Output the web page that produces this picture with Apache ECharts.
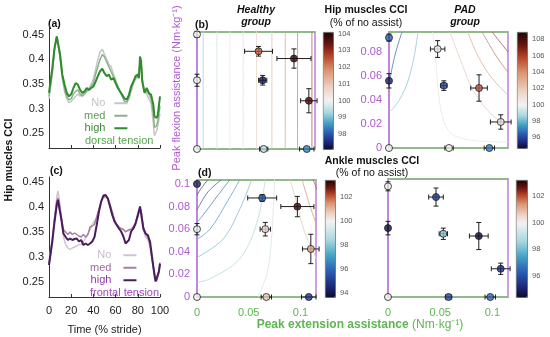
<!DOCTYPE html>
<html><head><meta charset="utf-8">
<script src="https://cdn.jsdelivr.net/npm/echarts@6/dist/echarts.min.js"></script>
<style>html,body{margin:0;padding:0;background:#fff}#c{width:550px;height:337px}</style>
</head><body><div id="c"></div>
<script>
// ---------------- DATA ----------------
const timeA = [0,3,5,7,8,10,12,14,16,18,20,22,24,26,28,30,32,34,36,38,40,42,44,46,48,50,52,54,56,58,60,62,64,66,68,70,72,74,76,78,80,81,82,83,84,86,88,90,91,92,94,95,97,98,100];
const dorsalNo = [0.32,0.37,0.42,0.445,0.44,0.40,0.36,0.335,0.32,0.312,0.315,0.32,0.325,0.33,0.325,0.33,0.332,0.338,0.342,0.35,0.36,0.38,0.40,0.415,0.421,0.41,0.40,0.39,0.385,0.37,0.36,0.345,0.335,0.325,0.315,0.312,0.32,0.335,0.35,0.36,0.365,0.37,0.39,0.385,0.36,0.335,0.33,0.32,0.318,0.31,0.27,0.245,0.255,0.265,0.29];
const dorsalMed = [0.325,0.375,0.42,0.445,0.442,0.405,0.365,0.34,0.325,0.318,0.32,0.33,0.335,0.338,0.33,0.325,0.33,0.335,0.34,0.345,0.352,0.37,0.385,0.40,0.41,0.405,0.395,0.385,0.375,0.365,0.355,0.345,0.335,0.325,0.315,0.312,0.322,0.34,0.355,0.362,0.368,0.375,0.395,0.39,0.36,0.335,0.335,0.33,0.328,0.32,0.29,0.262,0.265,0.275,0.305];
const dorsalHigh = [0.332,0.383,0.424,0.447,0.444,0.41,0.369,0.349,0.332,0.325,0.329,0.342,0.352,0.349,0.338,0.332,0.335,0.342,0.338,0.342,0.345,0.355,0.366,0.376,0.381,0.372,0.366,0.369,0.359,0.362,0.352,0.342,0.335,0.328,0.321,0.318,0.328,0.345,0.355,0.366,0.369,0.362,0.406,0.396,0.355,0.332,0.342,0.332,0.335,0.328,0.308,0.284,0.281,0.287,0.325];

const timeC = [0,3,5,7,8,9,11,13,15,17,19,21,23,25,27,29,31,33,35,37,39,41,43,45,47,49,51,53,55,57,59,61,63,65,67,69,70,72,74,76,78,80,82,83,85,87,89,91,93,95,96,97,99,100];
const frontalNo = [0.29,0.34,0.38,0.42,0.432,0.42,0.38,0.34,0.325,0.318,0.315,0.318,0.32,0.322,0.325,0.325,0.33,0.338,0.345,0.355,0.365,0.372,0.38,0.395,0.41,0.418,0.42,0.415,0.40,0.385,0.372,0.365,0.36,0.357,0.355,0.352,0.35,0.352,0.355,0.36,0.37,0.385,0.395,0.39,0.355,0.34,0.335,0.32,0.29,0.265,0.26,0.255,0.275,0.29];
const frontalMed = [0.285,0.335,0.375,0.41,0.418,0.413,0.38,0.355,0.35,0.345,0.35,0.345,0.348,0.345,0.342,0.34,0.345,0.34,0.345,0.36,0.362,0.365,0.38,0.395,0.41,0.42,0.422,0.418,0.405,0.39,0.375,0.365,0.36,0.357,0.355,0.35,0.352,0.355,0.355,0.36,0.368,0.38,0.398,0.393,0.36,0.345,0.34,0.325,0.295,0.268,0.258,0.252,0.268,0.285];
const frontalHigh = [0.284,0.331,0.371,0.404,0.414,0.41,0.377,0.347,0.34,0.334,0.337,0.334,0.336,0.337,0.331,0.334,0.324,0.327,0.324,0.327,0.331,0.34,0.364,0.391,0.411,0.423,0.424,0.417,0.401,0.384,0.371,0.364,0.357,0.351,0.341,0.327,0.324,0.334,0.351,0.357,0.367,0.384,0.401,0.397,0.357,0.347,0.344,0.331,0.297,0.264,0.251,0.247,0.271,0.287];

const lineTickLabels = [0.25,0.3,0.35,0.4,0.45];

// scatter points: [extension assist, flexion assist, xErr, yErr, CCI % of no assist]
const healthyHipPoints = [
  [0,0.095,0,0.0025,100.0],[0,0.057,0,0.005,100.1],[0,0,0,0,100],
  [0.060,0.081,0.0136,0.004,102.5],[0.0945,0.075,0.0166,0.008,104.0],
  [0.064,0.057,0.004,0.004,97.3],[0.109,0.040,0.008,0.010,103.7],
  [0.065,0,0.004,0,99.4],[0.107,0,0.007,0,98.4]];
const padHipPoints = [
  [0,0.092,0,0.003,96.5],[0,0.056,0,0.006,95.2],[0,0,0,0,100],
  [0.047,0.0825,0.007,0.007,100.3],[0.053,0.052,0.003,0.004,96.0],
  [0.087,0.050,0.008,0.011,105.5],[0.108,0.0217,0.010,0.006,101.0],
  [0.058,0,0.004,0,100.2],[0.097,0,0.005,0,97.0]];
const healthyAnklePoints = [
  [0,0.1,0,0,94.3],[0,0.060,0,0.005,99.6],[0,0,0,0,100],
  [0.063,0.0876,0.014,0.003,95.5],[0.097,0.080,0.016,0.009,103.2],
  [0.066,0.060,0.005,0.006,100.5],[0.110,0.0425,0.008,0.013,101.2],
  [0.067,0,0.005,0,100.8],[0.108,0,0.007,0,94.8]];
const padAnklePoints = [
  [0,0.098,0,0.004,100],[0,0.061,0,0.006,94.6],[0,0,0,0,100],
  [0.046,0.0885,0.007,0.008,95.6],[0.053,0.056,0.004,0.005,98.2],
  [0.087,0.054,0.009,0.012,94.5],[0.108,0.025,0.009,0.005,95.2],
  [0.058,0,0.003,0,95.8],[0.098,0,0.005,0,96.5]];

// contour lines (fitted surface iso-lines)
const healthyHipContourX = [0.006,0.0195,0.032,0.045,0.058,0.073,0.086,0.098,0.112];
const healthyHipContourLevels = [99.2,99.6,99.9,100.3,100.7,101.2,101.7,102.2,102.8];
const padHipContourLevels = [96.2,98.2,100.4,102,103.5,105,106.5];
const padHipContourLines = [
  [[0.0125,0.0967],[0.0058,0.0775],[0.001,0.058]],
  [[0.028,0.0967],[0.024,0.075],[0.018,0.055],[0.01,0.04],[0.002,0.031]],
  [[0.042,0.0967],[0.045,0.075],[0.048,0.045],[0.052,0.025],[0.06,0.012],[0.078,0.0067],[0.115,0.005]],
  [[0.059,0.0967],[0.071,0.069],[0.082,0.047],[0.0997,0.0275],[0.115,0.019]],
  [[0.076,0.0967],[0.087,0.075],[0.0997,0.058],[0.115,0.044]],
  [[0.090,0.0967],[0.103,0.0775],[0.115,0.063]],
  [[0.0997,0.0967],[0.115,0.080]]];
const healthyAnkleContourLevels = [94.3,95.2,96.0,96.8,97.6,98.6,99.5,100.8,101.6,102.4];
const healthyAnkleContourLines = [
  [[0.0106,0.104],[0.003,0.0947],[0,0.090]],
  [[0.024,0.104],[0.0106,0.093],[0,0.077]],
  [[0.032,0.104],[0.019,0.0885],[0.006,0.0726],[0,0.066]],
  [[0.0415,0.104],[0.029,0.084],[0.0126,0.060],[0,0.051]],
  [[0.053,0.104],[0.0415,0.078],[0.025,0.051],[0,0.035]],
  [[0.066,0.104],[0.058,0.066],[0.0415,0.034],[0.0126,0.016],[0,0.013]],
  [[0.075,0.104],[0.072,0.051],[0.068,0.022],[0.059,0]],
  [[0.090,0.104],[0.097,0.081],[0.104,0.0575],[0.117,0.031]],
  [[0.1015,0.104],[0.109,0.081],[0.117,0.060]],
  [[0.112,0.104],[0.117,0.093]]];

// ---------------- STYLE ----------------
const FONT = '"Liberation Sans", Arial, Helvetica, sans-serif';
const GREEN_LINE = '#7dc46e', GREEN_TEXT = '#5fb552', PURPLE_LINE = '#bd7fdc', PURPLE_TEXT = '#b058d2';
const LOW = [[0,'#f3f3f3'],[0.25,'#a6d7df'],[0.45,'#44a3c4'],[0.65,'#2b5fb5'],[0.85,'#1c2a7c'],[1,'#0b0b2e']];
const HIGH = [[0,'#f3f3f3'],[0.2,'#eed0c2'],[0.45,'#d99470'],[0.65,'#b9462a'],[0.82,'#6a1610'],[1,'#220505']];
function hex2rgb(h){return [parseInt(h.slice(1,3),16),parseInt(h.slice(3,5),16),parseInt(h.slice(5,7),16)];}
function rampRgb(stops,s){s=Math.max(0,Math.min(1,s));for(let i=1;i<stops.length;i++){if(s<=stops[i][0]){const a=stops[i-1],b=stops[i];const t=(s-a[0])/(b[0]-a[0]);const ca=hex2rgb(a[1]),cb=hex2rgb(b[1]);return ca.map((c,k)=>c+(cb[k]-c)*t);}}return hex2rgb(stops[stops.length-1][1]);}
function cciRgb(v,lo,hi){return v<100?rampRgb(LOW,(100-v)/(100-lo)):rampRgb(HIGH,(v-100)/(hi-100));}
function toCss(c){return 'rgb('+c.map(x=>Math.round(x)).join(',')+')';}
function cciColor(v,lo,hi){return toCss(cciRgb(v,lo,hi));}
function contourColor(v,lo,hi){return toCss(cciRgb(v,lo,hi).map(c=>c+(225-c)*0.3));}
function isMult(v,step){const q=v/step;return Math.abs(q-Math.round(q))<1e-6;}
function fmt(v){return String(parseFloat(v.toFixed(4)));}

const chart = echarts.init(document.getElementById('c'), null, {renderer:'canvas', width:550, height:337});

const grids = [
  {left:49, top:25, width:111, height:123},
  {left:49, top:177, width:111, height:120},
  {left:197, top:32, width:118, height:117},
  {left:389, top:32, width:119, height:116},
  {left:197, top:180, width:119, height:117},
  {left:388, top:179, width:120, height:118},
  {left:323, top:32, width:10, height:117},
  {left:517, top:32, width:10, height:116},
  {left:325, top:180, width:10, height:117},
  {left:516, top:180, width:11, height:117}
];

const panels = [
  {grid:2, ymax:0.097, pts:healthyHipPoints, lo:97.1, hi:104.1, step:1, showX:false, showY:false},
  {grid:3, ymax:0.0967, pts:padHipPoints, lo:94.7, hi:108.9, step:2, showX:false, showY:true},
  {grid:4, ymax:0.1035, pts:healthyAnklePoints, lo:93.7, hi:103.4, step:2, showX:true, showY:true},
  {grid:5, ymax:0.1045, pts:padAnklePoints, lo:94.4, hi:103.2, step:2, showX:true, showY:false}
];
grids.forEach((g,i)=>{ if(i>=2 && i<=5){ g.show=true; g.borderColor=PURPLE_LINE; g.borderWidth=1.5; } });

const lineY = (min,max,showLabel)=>({
  type:'value', min:min, max:max, interval:0.01,
  axisLine:{show:true, lineStyle:{color:'#333', width:1}},
  axisTick:{show:false}, splitLine:{show:false},
  axisLabel:{show:showLabel, fontFamily:FONT, fontSize:11, color:'#222', margin:5,
    formatter:v=>{ const hit=lineTickLabels.find(t=>Math.abs(t-v)<1e-6); return hit!==undefined?fmt(hit):''; }}
});
const xAxes = [
  {gridIndex:0, type:'value', min:0, max:100, interval:20, axisLine:{lineStyle:{color:'#333'}}, axisTick:{inside:true, length:3}, axisLabel:{show:false}, splitLine:{show:false}},
  {gridIndex:1, type:'value', min:0, max:100, interval:20, axisLine:{lineStyle:{color:'#333'}}, axisTick:{inside:true, length:3},
    axisLabel:{fontFamily:FONT, fontSize:11, color:'#222', margin:8}, splitLine:{show:false},
    name:'Time (% stride)', nameLocation:'middle', nameGap:27, nameTextStyle:{fontFamily:FONT, fontSize:11, color:'#222'}}
];
const yAxes = [ Object.assign({gridIndex:0}, lineY(0.22,0.47,true)), Object.assign({gridIndex:1}, lineY(0.22,0.46,true)) ];

panels.forEach((p,k)=>{
  p.xBottom = xAxes.length;
  xAxes.push({gridIndex:p.grid, type:'value', min:0, max:0.115, interval:0.05,
    axisLine:{lineStyle:{color:GREEN_LINE, width:1.6}}, axisTick:{show:false}, splitLine:{show:false},
    axisLabel:{show:p.showX, fontFamily:FONT, fontSize:11, color:GREEN_TEXT, margin:10,
      formatter:v=>isMult(v,0.05)?fmt(v):''}});
  xAxes.push({gridIndex:p.grid, type:'value', position:'top', min:0, max:0.115, interval:0.05,
    axisLine:{lineStyle:{color:GREEN_LINE, width:1.6}}, axisTick:{show:false}, splitLine:{show:false}, axisLabel:{show:false}});
  p.yIdx = yAxes.length;
  yAxes.push({gridIndex:p.grid, type:'value', min:0, max:p.ymax, interval:0.02,
    axisLine:{lineStyle:{color:PURPLE_LINE, width:1.6}}, axisTick:{show:false}, splitLine:{show:false},
    axisLabel:{show:p.showY, fontFamily:FONT, fontSize:11, color:PURPLE_TEXT, margin:7,
      formatter:v=>isMult(v,0.02)?fmt(v):''}});
});
panels.forEach((p,k)=>{
  xAxes.push({gridIndex:6+k, type:'value', show:false, min:0, max:1});
  yAxes.push({gridIndex:6+k, type:'value', position:'right', min:p.lo, max:p.hi, interval:0.1,
    axisLine:{show:false}, axisTick:{show:false}, splitLine:{show:false},
    axisLabel:{fontFamily:FONT, fontSize:7.5, color:'#555', margin:5,
      formatter:v=>{const r=Math.round(v); return (Math.abs(v-r)<1e-6 && r%p.step===0)?String(r):'';}}});
});

const series = [];
function addLine(name, xs, ys, xi, yi, color, w){
  series.push({type:'line', name:name, xAxisIndex:xi, yAxisIndex:yi, data:xs.map((x,i)=>[x,ys[i]]),
    showSymbol:false, color:color, lineStyle:{color:color, width:w}, z:3, silent:true});
}
addLine('No', timeA, dorsalNo, 0, 0, '#c6c6c6', 1.5);
addLine('med', timeA, dorsalMed, 0, 0, '#8fb08c', 1.5);
addLine('high', timeA, dorsalHigh, 0, 0, '#2f8c2c', 2);
addLine('No ', timeC, frontalNo, 1, 1, '#cfc5cf', 1.5);
addLine('med ', timeC, frontalMed, 1, 1, '#a97ea3', 1.5);
addLine('high ', timeC, frontalHigh, 1, 1, '#4a1c5c', 2);

function contour(p, pts, level){
  series.push({type:'line', xAxisIndex:p.xBottom, yAxisIndex:p.yIdx, data:pts, showSymbol:false, smooth:0.35,
    lineStyle:{color:contourColor(level,p.lo,p.hi), width:1, opacity:0.85}, silent:true, z:1, clip:true});
}
healthyHipContourX.forEach((x,i)=>contour(panels[0], [[x,0],[x,1]], healthyHipContourLevels[i]));
padHipContourLines.forEach((l,i)=>contour(panels[1], l, padHipContourLevels[i]));
healthyAnkleContourLines.forEach((l,i)=>contour(panels[2], l, healthyAnkleContourLevels[i]));

function errRender(params, api){
  const x=api.value(0), y=api.value(1), xe=api.value(2), ye=api.value(3);
  const ch=[]; const st={stroke:'#1e1e1e', lineWidth:1}; const cap=2.5;
  if(xe>0){const a=api.coord([x-xe,y]), b=api.coord([x+xe,y]);
    ch.push({type:'line',shape:{x1:a[0],y1:a[1],x2:b[0],y2:b[1]},style:st});
    [a,b].forEach(q=>ch.push({type:'line',shape:{x1:q[0],y1:q[1]-cap,x2:q[0],y2:q[1]+cap},style:st}));}
  if(ye>0){const a=api.coord([x,y-ye]), b=api.coord([x,y+ye]);
    ch.push({type:'line',shape:{x1:a[0],y1:a[1],x2:b[0],y2:b[1]},style:st});
    [a,b].forEach(q=>ch.push({type:'line',shape:{x1:q[0]-cap,y1:q[1],x2:q[0]+cap,y2:q[1]},style:st}));}
  return {type:'group', children:ch};
}
const visualMaps = [];
panels.forEach((p,k)=>{
  series.push({type:'custom', xAxisIndex:p.xBottom, yAxisIndex:p.yIdx, data:p.pts, renderItem:errRender,
    encode:{x:0,y:1}, z:4, silent:true});
  const si = series.length;
  series.push({type:'scatter', xAxisIndex:p.xBottom, yAxisIndex:p.yIdx, data:p.pts, encode:{x:0,y:1},
    symbolSize:7, itemStyle:{borderColor:'#1e1e1e', borderWidth:1}, z:5, clip:false, silent:true});
  const cols=[]; for(let i=0;i<=40;i++){const v=p.lo+(p.hi-p.lo)*i/40; cols.push(cciColor(v,p.lo,p.hi));}
  const g = grids[6+k];
  visualMaps.push({type:'continuous', seriesIndex:si, dimension:4, min:p.lo, max:p.hi, inRange:{color:cols},
    show:true, calculable:false, orient:'vertical', left:g.left, top:g.top, itemWidth:g.width, itemHeight:g.height,
    padding:0, text:null, borderColor:'#333', borderWidth:0.8, hoverLink:false});
});

const T = (text,x,y,opt)=>Object.assign({type:'text', x:x, y:y, silent:true,
  style:Object.assign({text:text, fontFamily:FONT, fontSize:10.5, fill:'#111', textAlign:'center', textVerticalAlign:'middle'}, (opt&&opt.style)||{})},
  opt&&opt.rotation!==undefined?{rotation:opt.rotation}:{});
const graphics = [
  T('(a)',48,24,{style:{fontWeight:'bold', textAlign:'left'}}),
  T('(c)',50,171,{style:{fontWeight:'bold', textAlign:'left'}}),
  T('(b)',195,25,{style:{fontWeight:'bold', textAlign:'left'}}),
  T('(d)',198,173,{style:{fontWeight:'bold', textAlign:'left'}}),
  T('Healthy',256,10,{style:{fontWeight:'bold', fontStyle:'italic'}}),
  T('group',256,22,{style:{fontWeight:'bold', fontStyle:'italic'}}),
  T('PAD',465,10,{style:{fontWeight:'bold', fontStyle:'italic'}}),
  T('group',465,22,{style:{fontWeight:'bold', fontStyle:'italic'}}),
  T('Hip muscles CCI',366,10,{style:{fontWeight:'bold'}}),
  T('(% of no assist)',366,23,{}),
  T('Ankle muscles CCI',372,161,{style:{fontWeight:'bold'}}),
  T('(% of no assist)',372,173,{}),
  T('dorsal tension',85,141,{style:{textAlign:'left', fontSize:11, fill:'#57a64f'}}),
  T('frontal tension',90,293,{style:{textAlign:'left', fontSize:11, fill:'#a344c4'}}),
  T('Hip muscles CCI',9,160,{rotation:Math.PI/2, style:{fontWeight:'bold'}}),
  T('Peak flexion assistance (Nm·kg⁻¹)',177,88,{rotation:Math.PI/2, style:{fontSize:11, fill:PURPLE_TEXT}}),
  {type:'text', x:360, y:325, silent:true, style:{text:'{b|Peak extension assistance} {n|(Nm·kg⁻¹)}',
    fontFamily:FONT, fontSize:12, fill:GREEN_TEXT, textAlign:'center', textVerticalAlign:'middle',
    rich:{b:{fontWeight:'bold', fontSize:12, fill:GREEN_TEXT, fontFamily:FONT}, n:{fontSize:12, fill:GREEN_TEXT, fontFamily:FONT}}}}
];

const legendBase = {orient:'vertical', align:'right', icon:'rect', itemWidth:13, itemHeight:2, itemGap:0, padding:0,
  selectedMode:false, textStyle:{fontFamily:FONT, fontSize:11, lineHeight:12.5, padding:[0,4,0,0]}};
const legends = [
  Object.assign({}, legendBase, {left:84, top:97, data:[
    {name:'No', textStyle:{color:'#c4c4c4'}}, {name:'med', textStyle:{color:'#5c9c56'}}, {name:'high', textStyle:{color:'#3a8a36'}}]}),
  Object.assign({}, legendBase, {left:90, top:249, data:[
    {name:'No ', textStyle:{color:'#cbbccb'}}, {name:'med ', textStyle:{color:'#a26a9e'}}, {name:'high ', textStyle:{color:'#8a3aa8'}}]})
];

chart.setOption({
  animation:false,
  backgroundColor:'#ffffff',
  textStyle:{fontFamily:FONT},
  grid:grids, xAxis:xAxes, yAxis:yAxes, series:series,
  visualMap:visualMaps, legend:legends, graphic:graphics
});
</script></body></html>
